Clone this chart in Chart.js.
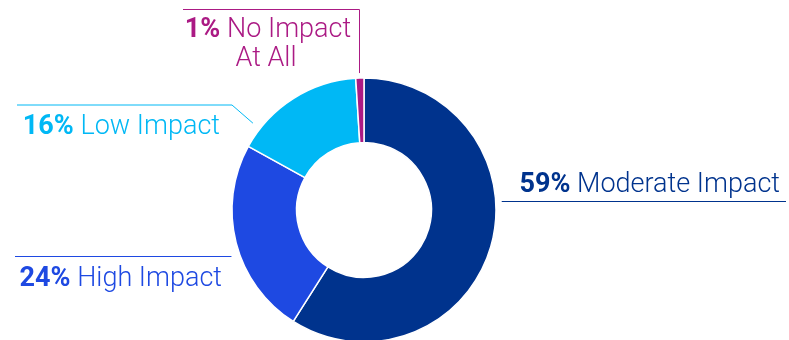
<!DOCTYPE html>
<html lang="en">
<head>
    <meta charset="UTF-8">
    <title>Impact</title>
    <script src="https://cdn.jsdelivr.net/npm/chart.js"></script>
    <style>
        html, body { margin: 0; padding: 0; background: #fff; overflow: hidden; }
        #wrap { width: 789px; height: 420px; }
    </style>
</head>
<body>
    <div id="wrap"><canvas id="impactChart" width="789" height="420"></canvas></div>

    <script>
        // Datos
        const categories = ['Moderate Impact', 'High Impact', 'Low Impact', 'No Impact At All'];
        const shares = [59, 24, 16, 1];
        const colors = ['#00338D', '#1E49E2', '#00B8F5', '#AB1A84'];

        const FONT = 'Roboto, "Liberation Sans", Arial, sans-serif';
        const SIZE = 27;

        // Posición de cada etiqueta y su línea guía
        const labelLayout = [
            { lineY: 201.5, lineEnd: 786, textX: 780, textY: 192, align: 'right' },
            { lineY: 256.5, lineEnd: 15, textX: 222, textY: 286, align: 'right' },
            { kneeX: 232, kneeY: 105, lineEnd: 17, frac: 0.16, gap: 9, textX: 220, textY: 134, align: 'right' },
            { topY: 9.5, lineEnd: 183, textX: 268, textY: 37, lineGap: 29, align: 'center' }
        ];

        function drawLabel(ctx, pct, name, x, y, align, color) {
            ctx.fillStyle = color;
            ctx.textBaseline = 'alphabetic';
            ctx.textAlign = 'left';
            ctx.font = `700 ${SIZE}px ${FONT}`;
            const bold = pct + '% ';
            const wb = ctx.measureText(bold).width;
            ctx.font = `300 ${SIZE}px ${FONT}`;
            const wn = ctx.measureText(name).width;
            let x0 = x;
            if (align === 'right') x0 = x - wb - wn;
            if (align === 'center') x0 = x - (wb + wn) / 2;
            ctx.font = `700 ${SIZE}px ${FONT}`;
            ctx.fillText(bold, x0, y);
            ctx.font = `300 ${SIZE}px ${FONT}`;
            ctx.fillText(name, x0 + wb, y);
        }

        const leaderLabels = {
            id: 'leaderLabels',
            afterDraw(chart) {
                const ctx = chart.ctx;
                const arcs = chart.getDatasetMeta(0).data;
                ctx.save();
                ctx.lineWidth = 1;
                arcs.forEach((arc, i) => {
                    const { x: cx, y: cy, outerRadius: r, startAngle, endAngle } = arc.getProps(['x', 'y', 'outerRadius', 'startAngle', 'endAngle'], true);
                    const L = labelLayout[i];
                    const color = colors[i];
                    ctx.strokeStyle = color;
                    ctx.beginPath();
                    if (i === 0) {
                        const dy = L.lineY - cy;
                        const sx = cx + Math.sqrt(r * r - dy * dy) + 6;
                        ctx.moveTo(sx, L.lineY);
                        ctx.lineTo(L.lineEnd, L.lineY);
                    } else if (i === 1) {
                        const dy = L.lineY - cy;
                        const sx = cx - Math.sqrt(r * r - dy * dy) - 9;
                        ctx.moveTo(sx, L.lineY);
                        ctx.lineTo(L.lineEnd, L.lineY);
                    } else if (i === 2) {
                        const a = startAngle + (endAngle - startAngle) * L.frac;
                        ctx.moveTo(cx + Math.cos(a) * (r + L.gap), cy + Math.sin(a) * (r + L.gap));
                        ctx.lineTo(L.kneeX, L.kneeY);
                        ctx.lineTo(L.lineEnd, L.kneeY);
                    } else {
                        const a = (startAngle + endAngle) / 2;
                        const px = Math.round(cx + Math.cos(a) * r) - 0.5;
                        ctx.moveTo(px, cy + Math.sin(a) * r - 5);
                        ctx.lineTo(px, L.topY);
                        ctx.lineTo(L.lineEnd, L.topY);
                    }
                    ctx.stroke();

                    if (i === 3) {
                        drawLabel(ctx, shares[i], 'No Impact', L.textX, L.textY, 'center', color);
                        ctx.font = `300 ${SIZE}px ${FONT}`;
                        ctx.textAlign = 'center';
                        ctx.fillText('At All', L.textX - 2, L.textY + L.lineGap);
                    } else {
                        drawLabel(ctx, shares[i], categories[i], L.textX, L.textY, L.align, color);
                    }
                });
                ctx.restore();
            }
        };

        new Chart(document.getElementById('impactChart'), {
            type: 'doughnut',
            data: {
                labels: categories,
                datasets: [{
                    data: shares,
                    backgroundColor: colors,
                    borderColor: '#ffffff',
                    borderWidth: 1.5
                }]
            },
            options: {
                responsive: false,
                animation: false,
                radius: 132,
                cutout: 67,
                layout: { padding: { left: 0, right: 61, top: 78, bottom: 78 } },
                plugins: {
                    legend: { display: false },
                    tooltip: { enabled: false }
                }
            },
            plugins: [leaderLabels]
        });
    </script>
</body>
</html>
